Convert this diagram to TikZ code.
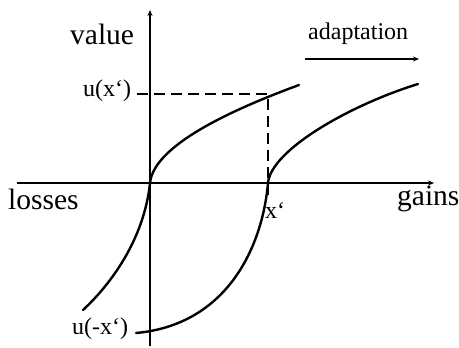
\documentclass[tikz,border=0pt]{standalone}
\usepackage{fontspec}
\setmainfont{Liberation Serif}
\usetikzlibrary{arrows.meta}
\begin{document}
\begin{tikzpicture}[x=1pt,y=-1pt,
  axis/.style={line width=1.4pt,-{Stealth[length=6pt,width=5pt]}},
  curve/.style={line width=2.4pt,line cap=round},
  guide/.style={line width=1.4pt,dash pattern=on 11pt off 6pt},
  big/.style={inner sep=0pt,font=\fontsize{29.5}{32}\selectfont},
  small/.style={inner sep=0pt,font=\fontsize{24}{26}\selectfont}]
\useasboundingbox (0,0) rectangle (459,348);
% axes
\coordinate (ybot) at (150,346);
\coordinate (ytop) at (150,10);
\coordinate (xl) at (17,183);
\coordinate (xr) at (434,183);
\draw[axis] (ybot) -- (ytop);
\draw[axis] (xl) -- (xr);
% dashed guides
\coordinate (hd0) at (137,94);
\coordinate (hd1) at (268,94);
\coordinate (vd1) at (268,195);
\draw[guide] (hd0) -- (hd1) -- (vd1);
% left curve
\coordinate (L0) at (83,310);
\coordinate (O) at (150,183);
\coordinate (L1) at (299,85);
\draw[curve] (L0) .. controls (110,285) and (144,240) .. (O)
  .. controls (154,143) and (242,106) .. (L1);
% right curve
\coordinate (R0) at (136,333);
\coordinate (X) at (268,183);
\coordinate (R1) at (418,84);
\draw[curve] (R0) .. controls (225,325) and (262,250) .. (X)
  .. controls (271,150) and (350,105) .. (R1);
% adaptation arrow
\coordinate (a0) at (305,59);
\coordinate (a1) at (419,59);
\draw[axis] (a0) -- (a1);
% labels
\node[big,anchor=base west] (value) at (70,45) {value};
\node[big,anchor=base west] (losses) at (8,209) {losses};
\node[big,anchor=base west] (gains) at (397,205) {gains};
\node[small,anchor=base west] (adapt) at (308,39) {adaptation};
\node[small,anchor=base west] (ux) at (83,96) {u(x‘)};
\node[small,anchor=base west] (umx) at (72,334) {u(-x‘)};
\node[small,anchor=base west] (xp) at (265,218) {x‘};
\end{tikzpicture}
\end{document}
